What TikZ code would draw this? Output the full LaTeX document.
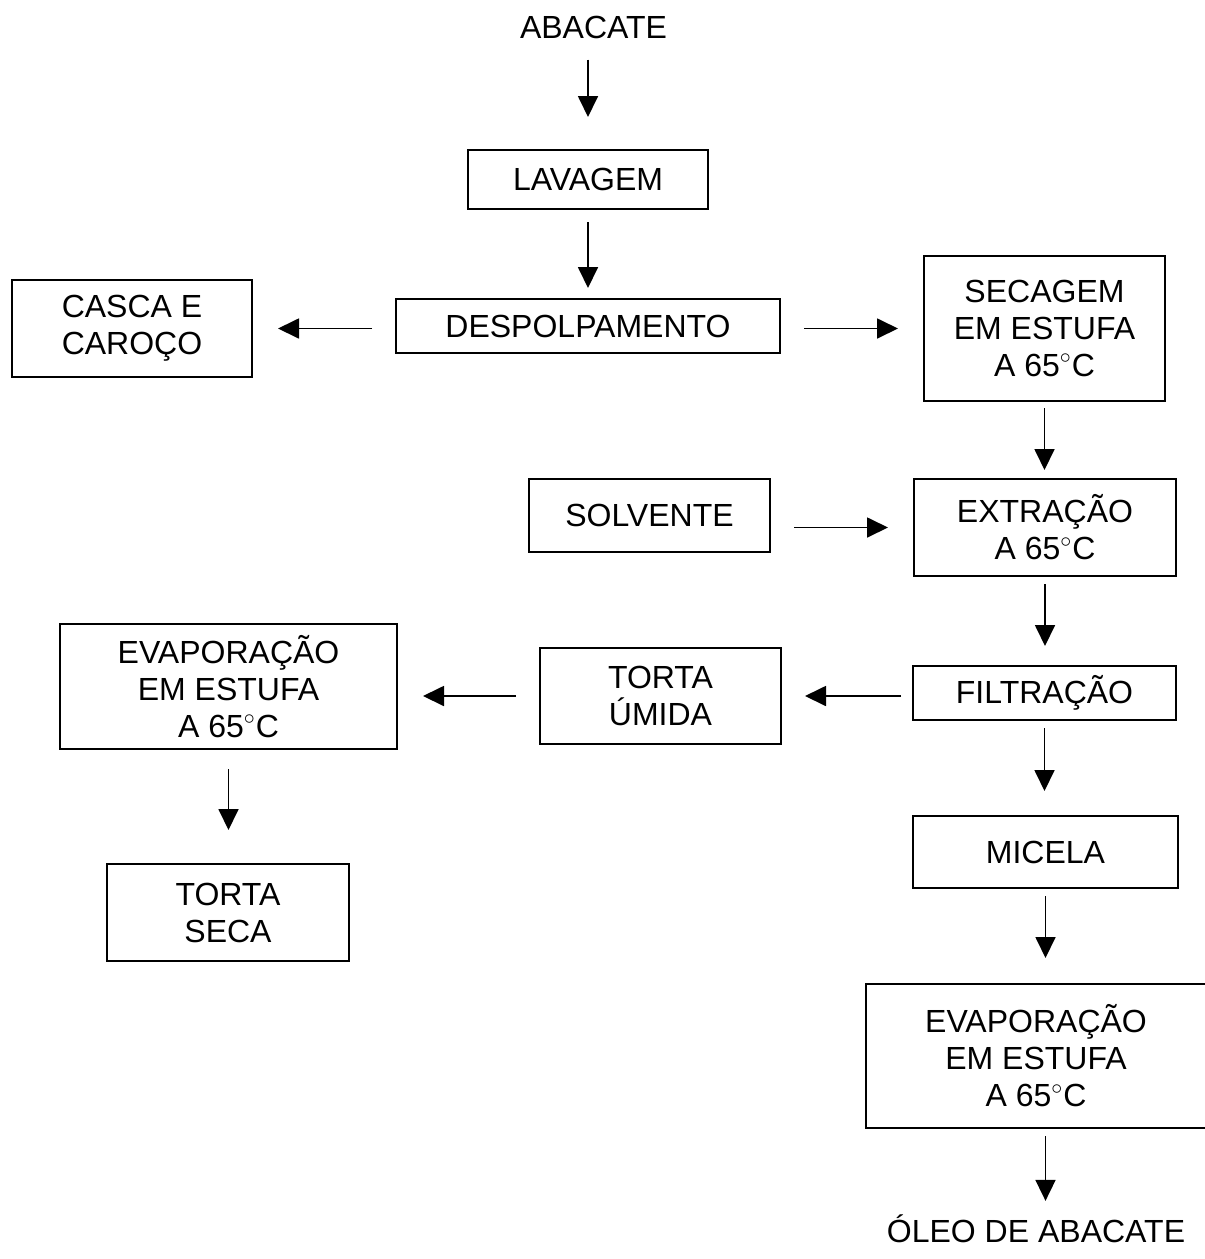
\documentclass[tikz,border=0pt]{standalone}
\usepackage{fontspec}
\setmainfont{Liberation Sans}
\usetikzlibrary{positioning,arrows.meta}

\begin{document}
\begin{tikzpicture}[
  x=0.5pt, y=-0.5pt,
  font=\fontsize{16}{18.5}\selectfont,
  every node/.style={align=center},
  proc/.style ={rectangle, draw=black, line width=1pt, inner sep=2pt},
  term/.style ={inner sep=0pt, anchor=base},
  arrow/.style={-{Triangle[length=10.5pt,width=10pt]}, line width=0.9pt},
]
\useasboundingbox (0,0) rectangle (1205,1259);

% -------- main line -------------------------------------------------------
\node[term] (abacate) at (593.5,38) {ABACATE};
\node[proc, minimum width=120pt, minimum height=29.5pt] (lavagem) at (588,179.5) {LAVAGEM};
\node[proc, minimum width=192pt, minimum height=27pt] (desp) at (588,326) {DESPOLPAMENTO};
\node[proc, minimum width=120pt, minimum height=48.5pt] (casca) at (132,328.5) {CASCA E\\CAROÇO};

% -------- extraction column -----------------------------------------------
\node[proc, minimum width=120.5pt, minimum height=72.5pt] (secagem) at (1044.5,328.5) {SECAGEM\\EM ESTUFA\\A 65$^\circ$C};
\node[proc, minimum width=120.5pt, minimum height=36.5pt] (solv) at (649.5,515.5) {SOLVENTE};
\node[proc, minimum width=131pt, minimum height=48.5pt] (extr) at (1045,527.5) {EXTRAÇÃO\\A 65$^\circ$C};
\node[proc, minimum width=131.5pt, minimum height=27pt] (filt) at (1044.5,693) {FILTRAÇÃO};
\node[proc, minimum width=132.5pt, minimum height=36pt] (micela) at (1045.5,852) {MICELA};
\node[proc, minimum width=170pt, minimum height=72pt] (evapr) at (1036,1056) {EVAPORAÇÃO\\EM ESTUFA\\A 65$^\circ$C};
\node[term] (oleo) at (1036,1242) {ÓLEO DE ABACATE};

% -------- cake branch -----------------------------------------------------
\node[proc, minimum width=120.5pt, minimum height=48pt] (tu) at (660.5,696) {TORTA\\ÚMIDA};
\node[proc, minimum width=168.5pt, minimum height=62.5pt] (evapl) at (228.5,686.5) {EVAPORAÇÃO\\EM ESTUFA\\A 65$^\circ$C};
\node[proc, minimum width=121pt, minimum height=48.5pt] (ts) at (228,912.5) {TORTA\\SECA};

% -------- arrows ----------------------------------------------------------
\draw[arrow, shorten <=10.5pt, shorten >=16pt] (abacate.south -| lavagem) -- (lavagem.north);

\foreach \a/\b/\s/\e in {lavagem/desp/6/5, secagem/extr/3/4, extr/filt/3.5/9.5,
                         filt/micela/3.5/12, micela/evapr/3.5/12.5, evapl/ts/9.5/16.5}
  \draw[arrow, shorten <=\s pt, shorten >=\e pt] (\a.south) -- (\a.south |- \b.north);

\draw[arrow, shorten <=3.5pt, shorten >=6.5pt] (evapr.south -| micela) -- (oleo.north -| micela);

% sideways
\foreach \a/\b in {desp/secagem, solv/extr}
  \draw[arrow, shorten <=11.5pt, shorten >=12.5pt] (\a.east |- \b) -- (\b.west);
\draw[arrow, shorten <=11.5pt, shorten >=12.5pt] (desp.west |- casca) -- (casca.east);
\draw[arrow, shorten <=5.5pt, shorten >=11.5pt] (filt.west |- tu) -- (tu.east);
\draw[arrow, shorten <=11.5pt, shorten >=12.5pt] (tu.west) -- (tu.west -| evapl.east);

\end{tikzpicture}
\end{document}
